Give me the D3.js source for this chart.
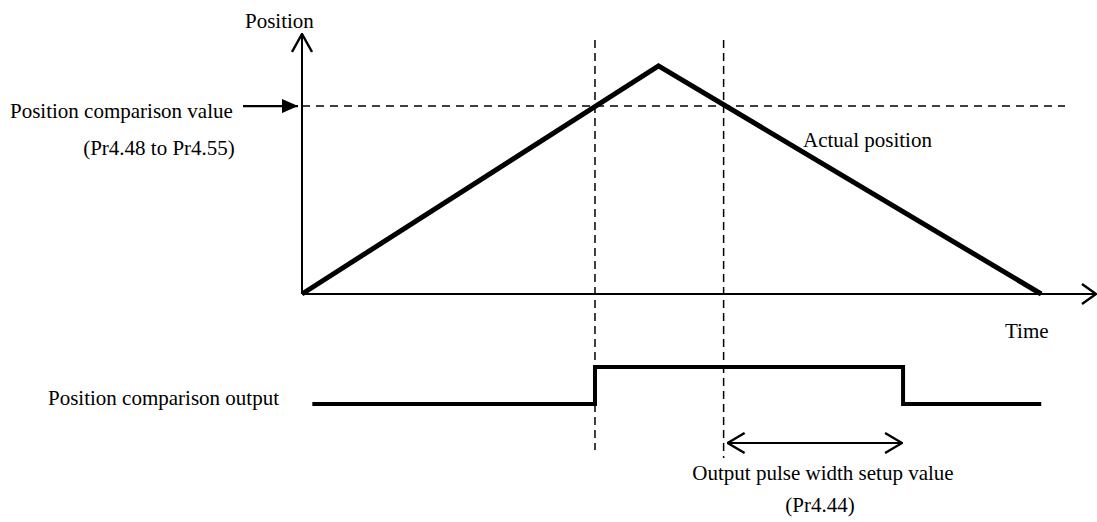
<!DOCTYPE html>
<html>
<head>
<meta charset="utf-8">
<script src="https://cdn.jsdelivr.net/npm/d3@7"></script>
<style>
  html, body { margin: 0; padding: 0; background: #fff; }
  svg { display: block; }
  text { font-family: "Liberation Serif", "Times New Roman", serif; font-size: 21px; fill: #000; }
</style>
</head>
<body>
<svg id="chart" width="1097" height="522"></svg>
<script>
// Actual position profile: time (%) vs position (%)
const positionTime = [0, 44.9, 93.1];
const positionValue = [0, 89.1, 0];

// Comparison value level and the moments the position crosses it
const comparisonValue = 73.4;
const crossTimes = [36.9, 53.1];

// Comparison output: time (%) vs output level (0 = off, 1 = on)
const outputTime = [1.3, 36.9, 36.9, 75.7, 75.7, 93.1];
const outputLevel = [0, 0, 1, 1, 0, 0];

// Pulse width bracket: from second crossing to output turning off
const pulseWidthSpan = [53.1, 75.7];

const svg = d3.select("#chart");

const x = d3.scaleLinear().domain([0, 100]).range([302, 1096]);
const y = d3.scaleLinear().domain([0, 100]).range([294, 38]);
const yOut = d3.scaleLinear().domain([0, 1]).range([404, 367]);

// Open chevron arrowheads of a given depth and half-width
const defs = svg.append("defs");
function openMarker(id, depth, half) {
  defs.append("marker")
    .attr("id", id)
    .attr("viewBox", `0 0 ${depth + 2} ${half * 2 + 2}`)
    .attr("refX", depth + 1).attr("refY", half + 1)
    .attr("markerWidth", depth + 2).attr("markerHeight", half * 2 + 2)
    .attr("markerUnits", "userSpaceOnUse")
    .attr("orient", "auto-start-reverse")
    .append("path")
    .attr("d", `M1,1 L${depth + 1},${half + 1} L1,${half * 2 + 1}`)
    .attr("fill", "none").attr("stroke", "#000").attr("stroke-width", 2.4)
    .attr("stroke-linejoin", "miter");
}
openMarker("arrowY", 18, 10);
openMarker("arrowX", 14, 10);
openMarker("arrowW", 17, 10);
defs.append("marker")
  .attr("id", "filled").attr("viewBox", "0 0 16 14").attr("refX", 16).attr("refY", 7)
  .attr("markerWidth", 16).attr("markerHeight", 14).attr("markerUnits", "userSpaceOnUse")
  .attr("orient", "auto")
  .append("path").attr("d", "M0,0 L16,7 L0,14 Z").attr("fill", "#000");

// Axes
svg.append("line")
  .attr("x1", x(0)).attr("y1", y(0)).attr("x2", x(0)).attr("y2", 34)
  .attr("stroke", "#000").attr("stroke-width", 2).attr("marker-end", "url(#arrowY)");
svg.append("line")
  .attr("x1", x(0)).attr("y1", y(0)).attr("x2", x(100)).attr("y2", y(0))
  .attr("stroke", "#000").attr("stroke-width", 2).attr("marker-end", "url(#arrowX)");

// Dashed comparison level
svg.append("line")
  .attr("x1", x(0)).attr("x2", x(96.1))
  .attr("y1", y(comparisonValue)).attr("y2", y(comparisonValue))
  .attr("stroke", "#000").attr("stroke-width", 1.5).attr("stroke-dasharray", "8,6");

// Dashed verticals at the crossing times
svg.selectAll("line.cross")
  .data(crossTimes)
  .join("line")
  .attr("class", "cross")
  .attr("x1", d => x(d)).attr("x2", d => x(d))
  .attr("y1", 40).attr("y2", (d, i) => i === 0 ? 450 : 458)
  .attr("stroke", "#000").attr("stroke-width", 1.5).attr("stroke-dasharray", "8,5");

// Actual position line
const posData = positionTime.map((t, i) => [t, positionValue[i]]);
svg.append("path")
  .datum(posData)
  .attr("d", d3.line().x(d => x(d[0])).y(d => y(d[1])))
  .attr("fill", "none").attr("stroke", "#000").attr("stroke-width", 5)
  .attr("stroke-linejoin", "miter").attr("stroke-linecap", "butt");

// Comparison output pulse
const outData = outputTime.map((t, i) => [t, outputLevel[i]]);
svg.append("path")
  .datum(outData)
  .attr("d", d3.line().x(d => x(d[0])).y(d => yOut(d[1])))
  .attr("fill", "none").attr("stroke", "#000").attr("stroke-width", 4)
  .attr("stroke-linejoin", "miter");

// Pulse width bracket
svg.append("line")
  .attr("x1", x(pulseWidthSpan[0]) + 4).attr("x2", x(pulseWidthSpan[1]) - 1)
  .attr("y1", 443).attr("y2", 443)
  .attr("stroke", "#000").attr("stroke-width", 2)
  .attr("marker-start", "url(#arrowW)").attr("marker-end", "url(#arrowW)");

// Arrow to comparison level
svg.append("line")
  .attr("x1", 243).attr("x2", x(0) - 4)
  .attr("y1", y(comparisonValue)).attr("y2", y(comparisonValue))
  .attr("stroke", "#000").attr("stroke-width", 2.2)
  .attr("marker-end", "url(#filled)");

// Labels
const labels = [
  { t: "Position", x: 245, y: 28, a: "start" },
  { t: "Position comparison value", x: 10, y: 118, a: "start" },
  { t: "(Pr4.48 to Pr4.55)", x: 159, y: 155, a: "middle" },
  { t: "Actual position", x: 803, y: 147, a: "start" },
  { t: "Time", x: 1005, y: 338, a: "start" },
  { t: "Position comparison output", x: 48, y: 405, a: "start" },
  { t: "Output pulse width setup value", x: 823, y: 480, a: "middle" },
  { t: "(Pr4.44)", x: 820, y: 512, a: "middle" }
];
svg.selectAll("text.lbl")
  .data(labels)
  .join("text")
  .attr("class", "lbl")
  .attr("x", d => d.x).attr("y", d => d.y)
  .attr("text-anchor", d => d.a)
  .text(d => d.t);
</script>
</body>
</html>
